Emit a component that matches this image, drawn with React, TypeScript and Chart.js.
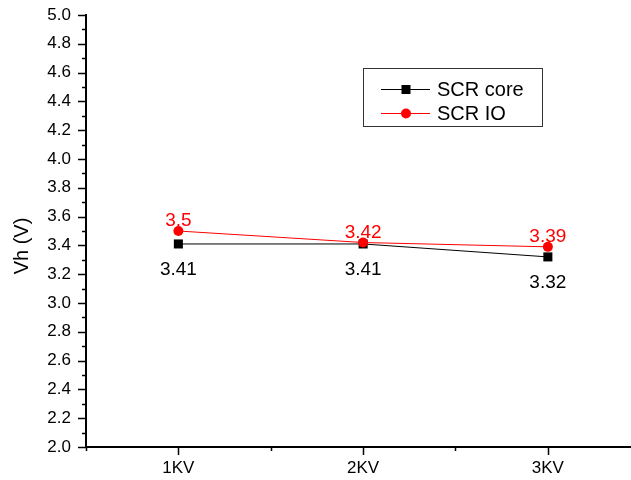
import React, { useEffect, useRef } from "react";
import { Chart, registerables } from "chart.js";

Chart.register(...registerables);

// ---- data ----
const categories = ["1KV", "2KV", "3KV"];
const scrCore = [3.41, 3.41, 3.32];
const scrIO = [3.5, 3.42, 3.39];
const coreLabels = ["3.41", "3.41", "3.32"];
const ioLabels = ["3.5", "3.42", "3.39"];
const seriesNames = ["SCR core", "SCR IO"];
const yMin = 2.0;
const yMax = 5.0;
const yStep = 0.2;
const yTitle = "Vh (V)";

const FONT = "'Liberation Sans', Arial, sans-serif";

const axisTicks = {
  id: "axisTicks",
  afterDraw(chart: any) {
    const ctx = chart.ctx;
    const { left, bottom, right } = chart.chartArea;
    const ys = chart.scales.y;
    const xs = chart.scales.x;
    ctx.save();
    ctx.strokeStyle = "#000";
    ctx.lineWidth = 1.5;
    ctx.beginPath();
    const n = Math.round((yMax - yMin) / (yStep / 2));
    for (let k = 0; k <= n; k++) {
      const v = yMin + (k * yStep) / 2;
      const py = Math.round(ys.getPixelForValue(v)) + 0.5;
      const len = k % 2 === 0 ? 8 : 4;
      ctx.moveTo(left, py);
      ctx.lineTo(left - len, py);
    }
    for (let k = -1; k <= categories.length * 2; k++) {
      const v = k / 2;
      if (v < xs.min - 1e-6 || v > xs.max) continue;
      const px = Math.round(xs.getPixelForValue(v)) + 0.5;
      if (px > right + 1) continue;
      const len = k % 2 === 0 ? 8 : 4;
      ctx.moveTo(px, bottom);
      ctx.lineTo(px, bottom + len);
    }
    ctx.stroke();
    ctx.restore();
  },
};

const dataLabels = {
  id: "dataLabels",
  afterDatasetsDraw(chart: any) {
    const ctx = chart.ctx;
    ctx.save();
    ctx.font = `19px ${FONT}`;
    ctx.textAlign = "center";
    ctx.textBaseline = "alphabetic";
    const coreMeta = chart.getDatasetMeta(1);
    coreMeta.data.forEach((pt: any, i: number) => {
      ctx.fillStyle = "#000";
      ctx.fillText(coreLabels[i], pt.x, pt.y + 31);
    });
    const ioMeta = chart.getDatasetMeta(0);
    ioMeta.data.forEach((pt: any, i: number) => {
      ctx.fillStyle = "#ff0000";
      ctx.fillText(ioLabels[i], pt.x, pt.y - 5);
    });
    ctx.restore();
  },
};

const customLegend = {
  id: "customLegend",
  afterDraw(chart: any) {
    const ctx = chart.ctx;
    ctx.save();
    const bx = 363, by = 68, bw = 179, bh = 58;
    ctx.strokeStyle = "#333";
    ctx.lineWidth = 1;
    ctx.strokeRect(bx + 0.5, by + 0.5, bw, bh);
    const rows = [
      { name: seriesNames[0], color: "#000", shape: "rect", y: 89 },
      { name: seriesNames[1], color: "#ff0000", shape: "circle", y: 113 },
    ];
    rows.forEach((r) => {
      ctx.strokeStyle = r.color;
      ctx.lineWidth = 1;
      ctx.beginPath();
      ctx.moveTo(381, r.y + 0.5);
      ctx.lineTo(430, r.y + 0.5);
      ctx.stroke();
      ctx.fillStyle = r.color;
      if (r.shape === "rect") {
        ctx.fillRect(406 - 4.5, r.y - 4, 9, 9);
      } else {
        ctx.beginPath();
        ctx.arc(406, r.y + 0.5, 5, 0, Math.PI * 2);
        ctx.fill();
      }
      ctx.fillStyle = "#000";
      ctx.font = `20px ${FONT}`;
      ctx.textAlign = "left";
      ctx.textBaseline = "middle";
      ctx.fillText(r.name, 437, r.y + 1);
    });
    ctx.restore();
  },
};

const yAxisTitle = {
  id: "yAxisTitle",
  afterDraw(chart: any) {
    const ctx = chart.ctx;
    ctx.save();
    ctx.translate(22, 246);
    ctx.rotate(-Math.PI / 2);
    ctx.font = `20px ${FONT}`;
    ctx.fillStyle = "#000";
    ctx.textAlign = "center";
    ctx.textBaseline = "middle";
    ctx.fillText(yTitle, 0, 0);
    ctx.restore();
  },
};

export default function App() {
  const ref = useRef<HTMLCanvasElement | null>(null);
  useEffect(() => {
    if (!ref.current) return;
    const chart = new Chart(ref.current, {
      type: "line",
      data: {
        datasets: [
          {
            label: seriesNames[1],
            data: scrIO.map((v, i) => ({ x: i, y: v })),
            borderColor: "#ff0000",
            backgroundColor: "#ff0000",
            borderWidth: 1,
            pointStyle: "circle",
            pointRadius: 5,
            pointBorderWidth: 0,
            order: 0,
          },
          {
            label: seriesNames[0],
            data: scrCore.map((v, i) => ({ x: i, y: v })),
            borderColor: "#000",
            backgroundColor: "#000",
            borderWidth: 1,
            pointStyle: "rect",
            pointRadius: 6.4,
            pointBorderWidth: 0,
            order: 1,
          },
        ],
      },
      options: {
        responsive: false,
        animation: false,
        layout: { autoPadding: false, padding: { top: 15, right: 0, left: 0, bottom: 0 } },
        plugins: {
          legend: { display: false },
          tooltip: { enabled: false },
        },
        scales: {
          x: {
            type: "linear",
            min: -0.5,
            max: 2.45,
            afterBuildTicks: (s: any) => {
              s.ticks = categories.map((_, i) => ({ value: i }));
            },
            afterFit: (s: any) => {
              s.height = 33;
              s.paddingLeft = 0;
              s.paddingRight = 0;
            },
            ticks: {
              autoSkip: false,
              maxRotation: 0,
              padding: 11,
              color: "#000",
              font: { family: FONT, size: 17 },
              callback: (v: any) => categories[Math.round(v)] ?? "",
            },
            grid: { display: false, drawTicks: false },
            border: { display: true, color: "#000", width: 2 },
          },
          y: {
            min: yMin,
            max: yMax,
            afterFit: (s: any) => {
              s.width = 86;
              s.paddingTop = 0;
              s.paddingBottom = 0;
            },
            ticks: {
              stepSize: yStep,
              padding: 15,
              color: "#000",
              font: { family: FONT, size: 17 },
              callback: (v: any) => Number(v).toFixed(1),
            },
            grid: { display: false, drawTicks: false },
            border: { display: true, color: "#000", width: 2 },
          },
        },
      },
      plugins: [axisTicks, dataLabels, customLegend, yAxisTitle],
    });
    return () => chart.destroy();
  }, []);
  return (
    <div style={{ position: "absolute", left: 0, top: 0, width: 631, height: 480, overflow: "hidden", background: "#fff" }}>
      <canvas ref={ref} width={631} height={480} />
    </div>
  );
}
